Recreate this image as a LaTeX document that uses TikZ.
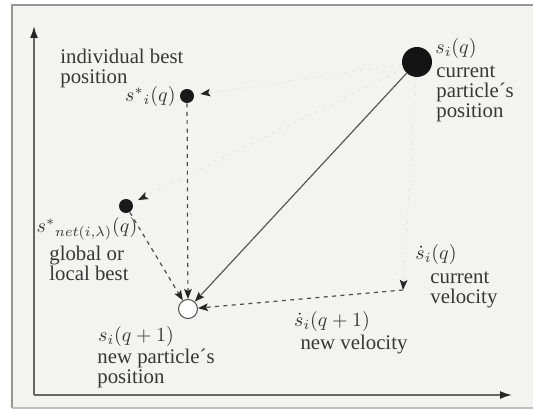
\documentclass[tikz,border=0pt]{standalone}
\usepackage{fontspec}
\setmainfont{Liberation Serif}
\usetikzlibrary{arrows.meta}
\definecolor{bgcol}{RGB}{243,243,239}
\definecolor{framecol}{RGB}{150,150,150}
\definecolor{txtcol}{RGB}{55,55,55}
\begin{document}
\begin{tikzpicture}[x=0.5pt,y=-0.5pt,
  txt/.style={text=txtcol, font=\fontsize{10.4}{10}\selectfont, inner sep=0pt, align=left},
  bestdot/.style={circle, fill=black!90, minimum size=7pt, inner sep=0pt},
  curdot/.style={circle, fill=black!92, minimum size=15pt, inner sep=0pt},
  newdot/.style={circle, draw=black!70, fill=white, minimum size=9.5pt, inner sep=0pt, line width=0.5pt},
  tip/.style={-{Stealth[length=5pt,width=3.8pt,inset=1pt,color=black!85]}},
  dashvec/.style={tip, draw=black!70, dash pattern=on 2pt off 2.2pt, line width=0.6pt},
  faintvec/.style={tip, draw=black!10, dash pattern=on 1pt off 3pt, line width=0.6pt},
  solidvec/.style={tip, draw=black!65, line width=0.6pt},
  axisline/.style={draw=black!60, line width=0.9pt, -{Latex[length=6pt,width=4pt,color=black!85]}}
]
\useasboundingbox (0,0) rectangle (533,410);
\fill[white] (0,0) rectangle (533,410);
\fill[bgcol] (12,5) rectangle (533,408);
\draw[framecol, line width=1pt] (12,408) -- (12,5) -- (533,5);
\draw[framecol!60, line width=0.6pt] (12,408) -- (533,408);

% axes
\coordinate (origin) at (34,395);
\coordinate (ytop) at (34,26);
\coordinate (xend) at (512,395);
\draw[axisline] (origin) -- (ytop);
\draw[axisline] (origin) -- (xend);

% points
\node[curdot] (cur) at (417,62) {};
\node[bestdot] (ibest) at (187,96) {};
\node[bestdot] (gbest) at (126,206) {};
\node[newdot] (new) at (188,309) {};
\coordinate (vtip) at (403,290);

% faint displacement vectors
\draw[faintvec, shorten >=3pt] (cur) -- (ibest);
\draw[faintvec, shorten >=3pt] (cur) -- (gbest);
\draw[faintvec] (cur) -- (vtip);

% update vectors
\draw[solidvec] (cur) -- (new);
\draw[dashvec] (ibest) -- (new);
\draw[dashvec] (gbest) -- (new);
\draw[dashvec] (vtip) -- (new);

% labels
\node[txt, anchor=north west] (ibtxt) at (60,49) {individual best\\position};
\node[txt, anchor=east] (ibsym) at (176,97) {$s^*{}_i(q)$};
\node[txt, anchor=west] (cursym) at (435,49) {$s_i(q)$};
\node[txt, anchor=north west] (curtxt) at (436,65) {current\\particle´s\\position};
\node[txt] (gbsym) at (87,229) {$s^*{}_{net(i,\lambda)}(q)$};
\node[txt, anchor=north west] (gbtxt) at (49,246) {global or\\local best};
\node[txt] (velsym) at (436,255) {$\dot{s}_i(q)$};
\node[txt, anchor=north west] (veltxt) at (430,271) {current\\velocity};
\node[txt] (nvsym) at (332,321) {$\dot{s}_i(q+1)$};
\node[txt] (nvtxt) at (354,345) {new velocity};
\node[txt] (npsym) at (136,336) {$s_i(q+1)$};
\node[txt, anchor=north west] (nptxt) at (97,349) {new particle´s\\position};
\end{tikzpicture}
\end{document}
